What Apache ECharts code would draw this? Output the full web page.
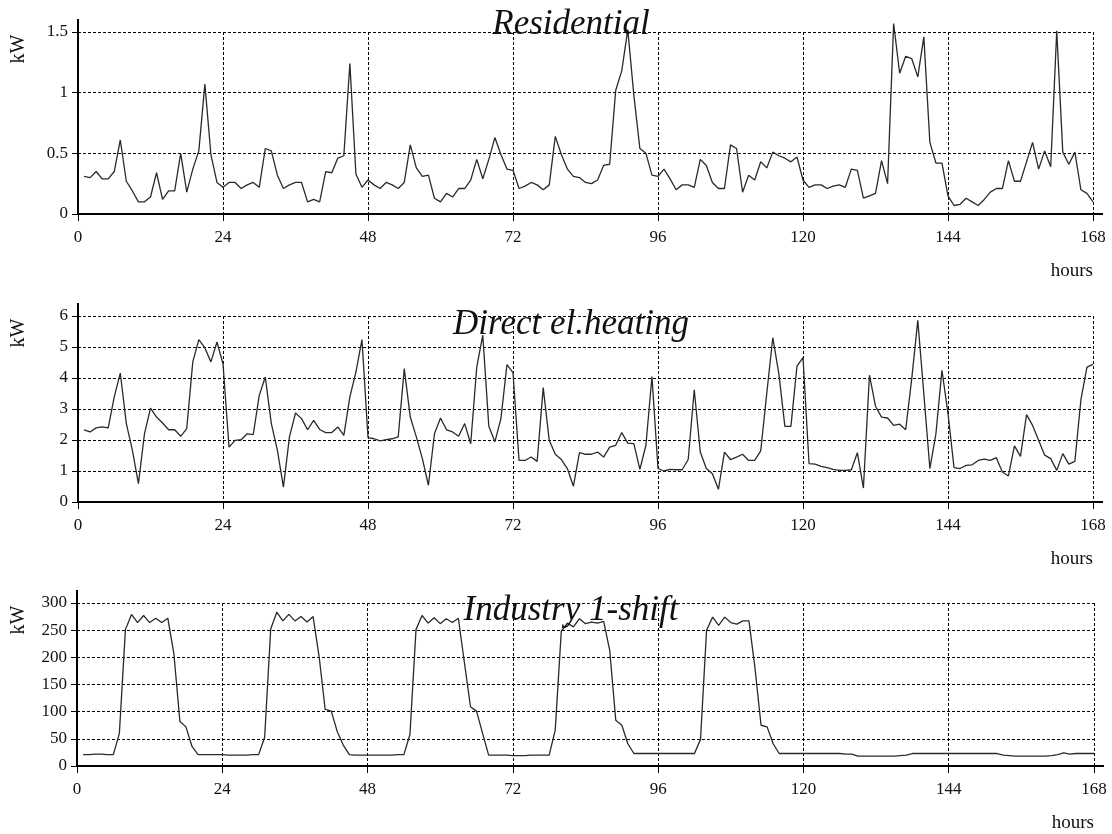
<!DOCTYPE html>
<html>
<head>
<meta charset="utf-8">
<script src="https://cdn.jsdelivr.net/npm/echarts@6/dist/echarts.min.js"></script>
<style>
  html, body { margin: 0; padding: 0; background: #fff; }
  #container { width: 1112px; height: 834px; }
</style>
</head>
<body>
<div id="container"></div>
<script>
// hour of the week for every sample (1..168)
const hours = Array.from({ length: 168 }, (_, i) => i + 1);
const xTicks = [0, 24, 48, 72, 96, 120, 144, 168];

const titles = ['Residential', 'Direct el.heating', 'Industry 1-shift'];

// kW
const residential = [
  0.31, 0.30, 0.35, 0.29, 0.29, 0.35, 0.61, 0.27, 0.19, 0.10, 0.10, 0.14,
  0.34, 0.12, 0.19, 0.19, 0.50, 0.18, 0.37, 0.52, 1.07, 0.49, 0.26, 0.22,
  0.26, 0.26, 0.21, 0.24, 0.26, 0.22, 0.54, 0.52, 0.32, 0.21, 0.24, 0.26,
  0.26, 0.10, 0.12, 0.10, 0.35, 0.34, 0.46, 0.48, 1.24, 0.33, 0.22, 0.28,
  0.24, 0.21, 0.26, 0.24, 0.21, 0.26, 0.57, 0.38, 0.31, 0.32, 0.13, 0.10,
  0.17, 0.14, 0.21, 0.21, 0.28, 0.45, 0.29, 0.45, 0.63, 0.49, 0.37, 0.36,
  0.21, 0.23, 0.26, 0.24, 0.20, 0.24, 0.64, 0.49, 0.37, 0.31, 0.30, 0.26,
  0.25, 0.28, 0.40, 0.41, 1.02, 1.18, 1.52, 0.98, 0.54, 0.50, 0.32, 0.31,
  0.37, 0.29, 0.20, 0.24, 0.24, 0.22, 0.45, 0.40, 0.26, 0.21, 0.21, 0.57,
  0.54, 0.18, 0.32, 0.28, 0.43, 0.38, 0.51, 0.48, 0.46, 0.43, 0.47, 0.28,
  0.22, 0.24, 0.24, 0.21, 0.23, 0.24, 0.22, 0.37, 0.36, 0.13, 0.15, 0.17,
  0.44, 0.25, 1.57, 1.16, 1.30, 1.28, 1.13, 1.46, 0.59, 0.42, 0.42, 0.15,
  0.07, 0.08, 0.13, 0.10, 0.07, 0.12, 0.18, 0.21, 0.21, 0.44, 0.27, 0.27,
  0.43, 0.59, 0.37, 0.52, 0.39, 1.51, 0.51, 0.41, 0.51, 0.20, 0.17, 0.10
];

const heating = [
  2.33, 2.26, 2.39, 2.42, 2.39, 3.39, 4.16, 2.53, 1.67, 0.59, 2.20, 3.03,
  2.74, 2.55, 2.33, 2.33, 2.12, 2.37, 4.52, 5.24, 4.97, 4.52, 5.16, 4.46,
  1.77, 1.99, 2.01, 2.20, 2.17, 3.44, 4.03, 2.53, 1.67, 0.48, 2.10, 2.87,
  2.69, 2.33, 2.63, 2.34, 2.24, 2.24, 2.42, 2.15, 3.39, 4.19, 5.24, 2.08,
  2.04, 1.97, 2.01, 2.04, 2.10, 4.30, 2.74, 2.10, 1.40, 0.54, 2.20, 2.71,
  2.33, 2.26, 2.12, 2.53, 1.88, 4.35, 5.38, 2.44, 1.94, 2.69, 4.43, 4.17,
  1.34, 1.34, 1.45, 1.31, 3.69, 1.99, 1.54, 1.37, 1.08, 0.51, 1.59, 1.54,
  1.54, 1.61, 1.45, 1.77, 1.83, 2.24, 1.90, 1.88, 1.05, 1.83, 4.05, 1.08,
  1.00, 1.05, 1.04, 1.04, 1.37, 3.62, 1.61, 1.08, 0.91, 0.41, 1.61, 1.37,
  1.45, 1.54, 1.34, 1.34, 1.65, 3.50, 5.30, 4.14, 2.44, 2.44, 4.38, 4.66,
  1.24, 1.22, 1.15, 1.11, 1.05, 1.02, 1.02, 1.04, 1.59, 0.45, 4.09, 3.09,
  2.74, 2.71, 2.47, 2.51, 2.33, 3.98, 5.86, 3.49, 1.08, 2.20, 4.25, 2.85,
  1.11, 1.08, 1.18, 1.20, 1.34, 1.38, 1.34, 1.43, 0.97, 0.84, 1.81, 1.47,
  2.82, 2.47, 1.99, 1.51, 1.40, 1.02, 1.56, 1.22, 1.31, 3.30, 4.35, 4.44
];

const industry = [
  21, 21, 22, 22, 21, 21, 60, 251, 279, 264, 277, 264,
  272, 264, 272, 207, 82, 72, 36, 21, 21, 21, 21, 21,
  20, 20, 20, 20, 21, 21, 53, 252, 283, 267, 279, 267,
  275, 265, 275, 201, 104, 101, 63, 38, 21, 20, 20, 20,
  20, 20, 20, 20, 21, 21, 58, 251, 277, 263, 273, 262,
  271, 264, 272, 190, 109, 101, 60, 20, 20, 20, 20, 19,
  19, 19, 20, 20, 20, 20, 66, 248, 263, 256, 271, 262,
  265, 263, 266, 213, 84, 75, 41, 23, 23, 23, 23, 23,
  23, 23, 23, 23, 23, 23, 49, 250, 274, 259, 274, 264,
  261, 267, 267, 180, 75, 72, 41, 23, 23, 23, 23, 23,
  23, 23, 23, 23, 23, 23, 22, 22, 18, 18, 18, 18,
  18, 18, 18, 19, 20, 23, 23, 23, 23, 23, 23, 23,
  23, 23, 23, 23, 23, 23, 23, 23, 20, 19, 18, 18,
  18, 18, 18, 18, 19, 21, 24, 22, 23, 23, 23, 23
];

const yMax = [1.5, 6, 300];
const yStep = [0.5, 1, 50];

const font = 'Liberation Serif';
var dom = document.getElementById('container');
var myChart = echarts.init(dom);

const grids = [
  { left: 78, top: 32, width: 1015, height: 182 },
  { left: 78, top: 316, width: 1015, height: 186 },
  { left: 77, top: 603, width: 1017, height: 163 }
];
const titleTop = [2, 302, 588];

const gridLine = { show: true, lineStyle: { color: '#000', width: 1, type: [3, 2] } };

var option = {
  animation: false,
  backgroundColor: '#fff',
  title: titles.map((t, i) => ({
    text: t,
    left: 566,
    top: titleTop[i],
    textAlign: 'center',
    textStyle: { fontFamily: font, fontStyle: 'italic', fontWeight: 'normal', fontSize: 35, color: '#111' }
  })),
  grid: grids,
  xAxis: grids.map((g, i) => ({
    type: 'value', gridIndex: i, min: 0, max: 168, interval: 24,
    axisLine: { show: true, lineStyle: { color: '#000', width: 2 } },
    axisTick: { show: true, length: 7, lineStyle: { color: '#000', width: 1 } },
    axisLabel: {
      margin: 15, fontFamily: font, fontSize: 17, color: '#111',
      formatter: v => xTicks.includes(v) ? String(v) : ''
    },
    splitLine: gridLine
  })),
  yAxis: grids.map((g, i) => ({
    type: 'value', gridIndex: i, min: 0, max: yMax[i], interval: yStep[i],
    axisLine: { show: true, lineStyle: { color: '#000', width: 2 } },
    axisTick: { show: true, length: 6, lineStyle: { color: '#000', width: 1 } },
    axisLabel: { margin: 10, fontFamily: font, fontSize: 17, color: '#111' },
    splitLine: gridLine
  })),
  series: [residential, heating, industry].map((vals, i) => ({
    type: 'line', xAxisIndex: i, yAxisIndex: i,
    showSymbol: false, clip: false,
    lineStyle: { color: '#2a2a2a', width: 1.3 },
    data: hours.map((h, k) => [h, vals[k]])
  }))
};
myChart.setOption(option, true);

// axis overhangs, unit labels and "hours" labels
let extra = [];
grids.forEach((g, i) => {
  const origin = myChart.convertToPixel({ gridIndex: i }, [0, 0]);
  const top = myChart.convertToPixel({ gridIndex: i }, [0, yMax[i]]);
  const right = myChart.convertToPixel({ gridIndex: i }, [168, 0]);
  extra.push({ type: 'line', shape: { x1: top[0], y1: top[1], x2: top[0], y2: top[1] - 13 },
    style: { stroke: '#000', lineWidth: 2 } });
  extra.push({ type: 'line', shape: { x1: right[0], y1: right[1], x2: right[0] + 10, y2: right[1] },
    style: { stroke: '#000', lineWidth: 2 } });
  extra.push({ type: 'text', x: 19, y: top[1] + 17, rotation: Math.PI / 2,
    style: { text: 'kW', font: '20px "Liberation Serif"', fill: '#111', textAlign: 'center', textVerticalAlign: 'middle' } });
  extra.push({ type: 'text', x: right[0], y: origin[1] + 57,
    style: { text: 'hours', font: '19px "Liberation Serif"', fill: '#111', textAlign: 'right', textVerticalAlign: 'middle' } });
});
myChart.setOption({ graphic: extra });
</script>
</body>
</html>
